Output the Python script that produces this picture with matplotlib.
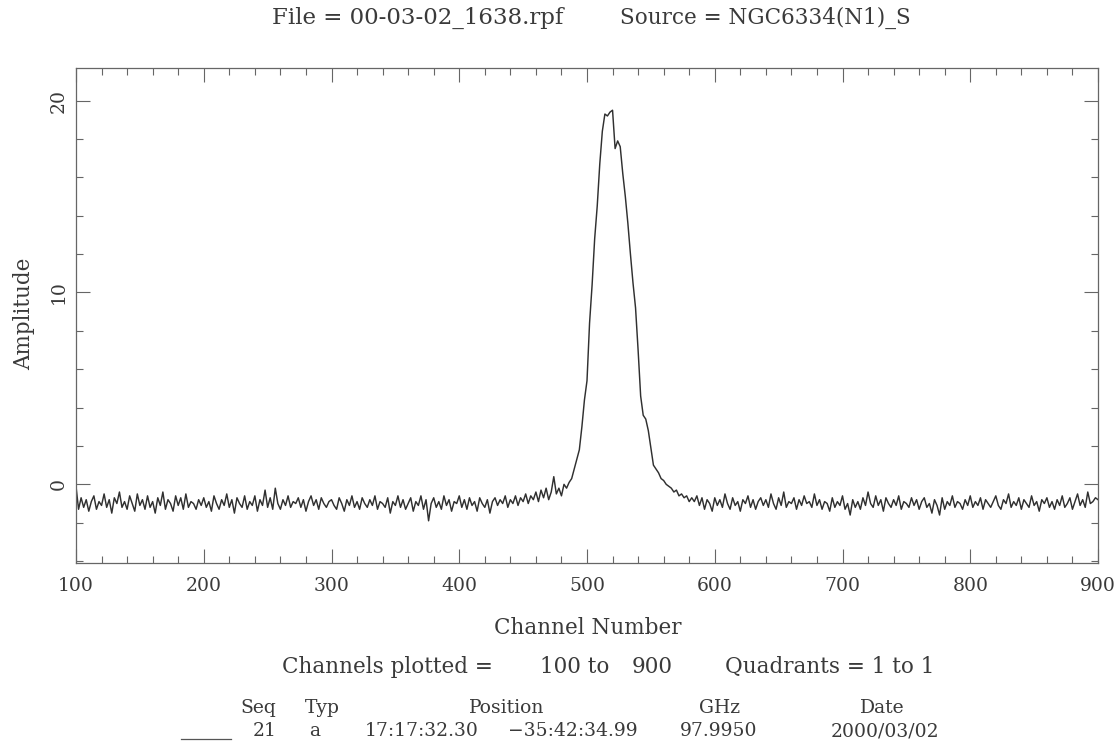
import numpy as np
import matplotlib
matplotlib.use("Agg")
import matplotlib.pyplot as plt
from matplotlib.ticker import MultipleLocator

# amplitude, every 2nd channel
base_left = [  # channels 100-482
    -0.1, -1.3, -0.7, -1.2, -0.8, -1.4, -0.9, -0.6, -1.3, -0.9,
    -1.1, -0.5, -1.2, -0.8, -1.5, -0.7, -1.0, -0.4, -1.2, -0.9,
    -1.3, -0.6, -1.0, -1.4, -0.5, -1.1, -0.8, -1.3, -0.6, -1.2,
    -0.9, -1.5, -0.7, -1.1, -0.4, -1.3, -0.8, -1.0, -1.4, -0.6,
    -1.1, -0.7, -1.3, -0.5, -1.2, -0.9, -1.0, -1.3, -0.8, -1.1,
    -0.7, -1.2, -0.9, -1.4, -0.6, -1.0, -1.3, -0.8, -1.1, -0.5,
    -1.2, -0.8, -1.5, -0.7, -1.0, -1.2, -0.6, -1.3, -0.9, -1.1,
    -0.6, -1.4, -0.8, -1.1, -0.3, -1.2, -0.7, -1.3, -0.2, -1.0,
    -1.3, -0.8, -1.1, -0.6, -1.2, -0.9, -1.0, -0.7, -1.2, -0.8,
    -1.4, -0.9, -0.6, -1.1, -0.8, -1.3, -0.7, -1.0, -1.2, -0.9,
    -0.8, -1.1, -1.3, -0.7, -1.0, -1.4, -0.8, -1.1, -0.6, -1.2,
    -0.9, -1.3, -0.7, -1.0, -1.2, -0.8, -1.1, -0.6, -1.3, -0.9,
    -1.0, -1.2, -0.7, -1.5, -0.9, -1.1, -0.6, -1.2, -0.8, -1.3,
    -1.0, -0.7, -1.4, -0.9, -1.1, -0.6, -1.3, -0.8, -1.9, -1.0,
    -0.7, -1.2, -0.9, -1.3, -0.6, -1.1, -0.8, -1.4, -0.9, -1.0,
    -0.6, -1.2, -0.8, -1.3, -0.7, -1.1, -0.9, -1.4, -0.7, -1.0,
    -1.2, -0.8, -1.5, -0.9, -0.7, -1.1, -0.8, -1.0, -0.6, -1.2,
    -0.8, -1.0, -0.6, -1.1, -0.7, -0.9, -0.5, -1.0, -0.6, -0.8,
    -0.4, -0.9, -0.3, -0.7, -0.2, -0.8, -0.4, 0.4, -0.5, -0.2,
    -0.6, 0.0,
]
line_core = [  # channels 484-582
    -0.2, 0.1, 0.3, 0.8, 1.3, 1.8, 3.0, 4.4, 5.4, 8.4,
    10.4, 12.8, 14.5, 16.7, 18.4, 19.3, 19.2, 19.4, 19.5, 17.5,
    17.9, 17.6, 16.2, 15.0, 13.6, 12.0, 10.5, 9.2, 7.0, 4.6,
    3.6, 3.4, 2.8, 1.9, 1.0, 0.8, 0.6, 0.3, 0.2, 0.0,
    -0.1, -0.2, -0.4, -0.3, -0.6, -0.5, -0.7, -0.6, -0.9, -0.7,
]
base_right = [  # channels 584-900
    -0.9, -0.6, -1.1, -0.7, -1.3, -0.8, -1.0, -1.4, -0.7, -1.1,
    -0.8, -1.2, -0.5, -1.0, -1.3, -0.7, -1.1, -0.9, -1.4, -0.8,
    -1.0, -0.6, -1.2, -0.8, -1.3, -0.9, -0.7, -1.1, -0.8, -1.2,
    -0.5, -1.0, -1.3, -0.7, -1.1, -0.4, -1.2, -0.9, -1.0, -0.7,
    -1.3, -0.8, -1.1, -0.6, -1.0, -0.9, -1.2, -0.5, -1.1, -0.8,
    -1.3, -0.9, -1.0, -1.4, -0.7, -1.2, -0.9, -1.1, -0.6, -1.3,
    -1.0, -1.6, -0.8, -1.2, -0.9, -1.3, -0.7, -1.1, -0.4, -1.0,
    -1.2, -0.6, -1.1, -0.8, -1.4, -0.7, -1.0, -1.2, -0.8, -1.1,
    -0.6, -1.3, -0.9, -1.0, -1.2, -0.7, -1.1, -0.8, -1.3, -0.9,
    -0.7, -1.2, -1.0, -1.5, -0.8, -1.1, -1.6, -0.7, -1.3, -0.9,
    -1.1, -0.6, -1.2, -0.9, -1.0, -1.3, -0.8, -1.1, -0.6, -1.2,
    -0.9, -1.1, -0.7, -1.3, -0.8, -1.0, -1.2, -0.9, -0.6, -1.1,
    -1.3, -0.8, -1.0, -0.5, -1.2, -0.9, -1.1, -0.7, -1.3, -0.8,
    -1.0, -1.2, -0.6, -1.1, -0.9, -1.4, -0.8, -1.0, -0.7, -1.2,
    -0.9, -1.3, -0.8, -1.1, -0.6, -1.2, -1.0, -0.7, -1.3, -0.9,
    -0.5, -1.1, -0.8, -1.2, -0.4, -1.0, -0.9, -0.7, -0.8,
]

amplitude = np.array(base_left + line_core + base_right)
channel = 100 + 2 * np.arange(len(amplitude))

title_file = "File = 00-03-02_1638.rpf"
title_source = "Source = NGC6334(N1)_S"
info_parts = ["Channels plotted =", "100 to", "900", "Quadrants = 1 to 1"]
header = ["Seq", "Typ", "Position", "GHz", "Date"]
row = ["21", "a", "17:17:32.30", "\u221235:42:34.99", "97.9950", "2000/03/02"]

ink = "#3a3a3a"
plt.rcParams["font.family"] = ["DejaVu Serif"]
plt.rcParams["text.color"] = ink
fs = 15.5
fs_small = 13.5

W, H = 1117, 744
fig = plt.figure(figsize=(W / 100, H / 100), dpi=100)
ax = fig.add_axes([76 / W, 1 - 563 / H, (1098 - 76) / W, (563 - 68) / H])

ax.plot(channel, amplitude, color="#303030", lw=1.05)
ax.set_xlim(100, 900)
ax.set_ylim(-4.1, 21.7)

ax.xaxis.set_major_locator(MultipleLocator(100))
ax.xaxis.set_minor_locator(MultipleLocator(20))
ax.yaxis.set_major_locator(MultipleLocator(10))
ax.yaxis.set_minor_locator(MultipleLocator(2))
ax.tick_params(which="both", direction="in", top=True, right=True,
               color="#666666", width=0.8, labelcolor=ink, labelsize=13.5)
ax.tick_params(which="major", length=10)
ax.tick_params(which="minor", length=5)
ax.tick_params(axis="x", pad=10)
ax.tick_params(axis="y", pad=6)
for lab in ax.get_yticklabels():
    lab.set_rotation(90)
    lab.set_va("center")
for s in ax.spines.values():
    s.set_color("#666666")
    s.set_linewidth(0.9)

fig.text(24 / W, 1 - 314 / H, "Amplitude", rotation=90, ha="center", va="center", fontsize=fs)
fig.text(418 / W, 1 - 18 / H, title_file, ha="center", va="center", fontsize=16.5)
fig.text(765 / W, 1 - 18 / H, title_source, ha="center", va="center", fontsize=fs)
fig.text(588 / W, 1 - 628 / H, "Channel Number", ha="center", va="center", fontsize=fs)

info_x = [387, 575, 652, 830]
for x, t in zip(info_x, info_parts):
    fig.text(x / W, 1 - 667 / H, t, ha="center", va="center", fontsize=fs)

head_x = [258, 322, 507, 720, 882]
for x, t in zip(head_x, header):
    fig.text(x / W, 1 - 708 / H, t, ha="center", va="center", fontsize=fs_small)
row_x = [265, 315, 422, 573, 719, 885]
for x, t in zip(row_x, row):
    fig.text(x / W, 1 - 731 / H, t, ha="center", va="center", fontsize=fs_small)
fig.add_artist(plt.Line2D([181 / W, 231 / W], [1 - 739 / H, 1 - 739 / H], color="#555555", lw=0.9))

fig.savefig("out.png", dpi=100)
